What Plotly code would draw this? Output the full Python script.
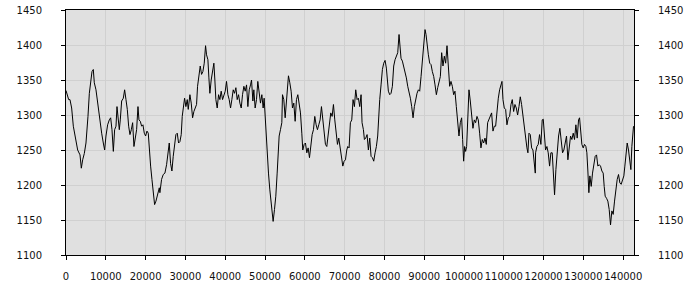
import plotly.graph_objects as go

# sample positions and values
x1 = [0,670,1000,1420,1840,2260,2930,3520,3850,4190,4600,5020,5270,5520,5860,6190,6530,6860,7110,7530,
      7950,8370,8620,8960,9370,9710,10040,10460,10880,11220,11550,11890,12220,12560,12810,13060,13390,13640,13980,14400,
      14730,15070,15400,15740,16070,16410,16740,17070,17410,17740,18080,18330,18670,19000,19330,19670,20000,20340,20670,20930,
      21260,21590,21930,22260,22600,23020,23440]
y1 = [1335,1322,1322,1310,1284,1272,1250,1243,1224,1236,1245,1260,1274,1298,1331,1348,1362,1365,1346,1336,
      1317,1298,1284,1274,1260,1250,1270,1286,1293,1296,1279,1248,1279,1284,1312,1293,1279,1293,1320,1324,
      1336,1322,1308,1284,1272,1279,1289,1255,1265,1279,1312,1293,1291,1284,1286,1274,1270,1277,1274,1250,
      1227,1208,1193,1172,1177,1186,1196]

x2 = [23590,24010,24430,24850,25270,25690,25940,26270,26610,26940,27280,27610,27950,28280,28620,28950,29200,29450,29790,30120,
      30460,30710,31130,31460,31800,32130,32470,32800,33050,33390,33720,34060,34390,34730,35060,35310,35650,35900,36150,36480,
      36820,37150,37400,37650,37990,38330,38660,38990,39330,39660,40000,40330,40670,41000,41340,41670,42010,42340,42680,43010,
      43350,43680,44020,44350,44690,45020,45360,45690,46030,46360,46610,46950]
y2 = [1189,1208,1215,1217,1229,1255,1260,1231,1220,1241,1255,1272,1274,1260,1262,1272,1298,1312,1324,1312,
      1322,1308,1329,1317,1296,1305,1310,1315,1341,1353,1370,1358,1362,1374,1399,1386,1379,1353,1331,1350,
      1365,1374,1350,1322,1310,1329,1322,1334,1322,1329,1334,1348,1329,1322,1310,1322,1336,1331,1339,1322,
      1329,1317,1310,1329,1341,1334,1343,1312,1336,1343,1350,1320]

x3 = [47190,47520,47860,48190,48530,48860,49200,49530,49780,50030,50280,50540,50870,51210,51540,51790,52040,52380,52710,53050,
      53300,53550,53880,54220,54390,54720,55060,55310,55560,55890,56230,56560,56900,57230,57570,57900,58240,58570,58910,59240,
      59490,59830,60160,60500,60830,61170,61500,61840,62170,62500,62840,63170,63510,63840,64180,64510,64850,65180,65520,65850,
      66190,66520,66860,67190,67530,67860,68200,68530,68870,69200,69540,69870,70210,70540]
y3 = [1336,1310,1322,1348,1334,1317,1329,1310,1324,1298,1274,1241,1217,1193,1170,1160,1148,1165,1184,1217,
      1246,1270,1279,1289,1329,1322,1296,1312,1327,1356,1346,1334,1310,1317,1291,1322,1329,1312,1303,1274,
      1250,1258,1260,1246,1253,1239,1260,1272,1279,1298,1286,1279,1286,1293,1312,1293,1272,1258,1255,1274,
      1289,1303,1298,1315,1293,1279,1258,1267,1253,1241,1227,1234,1236,1250]

x4 = [70780,71120,71450,71790,72120,72460,72790,73130,73460,73800,74130,74380,74720,74970,75300,75640,75970,76310,76640,76980,
      77310,77650,77980,78310,78570,78820,79150,79490,79820,80160,80490,80740,80990,81330,81660,82000,82330,82670,83000,83340,
      83670,83920,84170,84510,84840,85180,85510,85850,86180,86520,86850,87190,87520,87860,88190,88530,88860,89200,89530,89870,
      90200,90450,90700,91040,91370,91710,92040,92380,92710,93050,93380,93720,94050]
y4 = [1255,1253,1289,1293,1322,1312,1336,1322,1324,1312,1329,1289,1279,1265,1267,1272,1250,1267,1241,1239,
      1234,1246,1255,1270,1300,1322,1343,1365,1374,1378,1367,1346,1334,1329,1331,1341,1370,1379,1384,1389,
      1415,1400,1381,1377,1370,1360,1353,1341,1334,1324,1312,1296,1312,1324,1331,1336,1334,1355,1377,1396,
      1422,1415,1400,1386,1374,1372,1362,1355,1343,1329,1339,1348,1355]

x5 = [94380,94710,95050,95380,95720,96050,96390,96720,97060,97390,97720,98060,98390,98730,99060,99400,99650,99900,100150,100400,
      100650,100910,101240,101570,101910,102240,102580,102910,103250,103580,103920,104250,104590,104920,105260,105590,105930,106260,106600,106930,
      107270,107600,107940,108270,108610,108940,109270,109530,109780,110110,110450,110780,111120,111450,111790,112120,112460,112790,113130,113460,
      113800,114130,114460,114800,115130,115470,115800,116050,116310,116640,116980,117310,117650,117900]
y5 = [1389,1370,1384,1374,1399,1365,1341,1348,1341,1329,1334,1312,1293,1270,1289,1296,1265,1234,1255,1248,
      1255,1293,1336,1320,1298,1281,1293,1289,1298,1293,1274,1253,1265,1260,1267,1258,1289,1293,1298,1303,
      1277,1284,1284,1308,1324,1336,1343,1348,1322,1310,1308,1286,1296,1298,1315,1322,1305,1315,1310,1300,
      1312,1326,1315,1298,1289,1274,1253,1246,1274,1272,1253,1250,1234,1217]

x6 = [117970,118300,118640,118970,119310,119640,119900,120150,120480,120820,121150,121490,121820,122160,122490,122740,123080,123410,123750,124080,
      124420,124750,125080,125420,125750,126090,126420,126760,127090,127430,127760,128100,128430,128770,129020,129270,129600,129940,130270,130610,
      130860,131110,131360,131610,131950,132280,132620,132950,133290,133620,133960,134290,134630,134960,135210,135460,135800,136130,136470,136800,
      137140,137470,137810,138140,138480,138810,139150,139480,139820,140150,140400,140650,140990,141320,141660,141910,142160,142410,142580]
y6 = [1246,1255,1258,1272,1258,1293,1294,1274,1250,1255,1246,1227,1246,1246,1203,1186,1222,1250,1270,1281,
      1265,1246,1250,1260,1270,1236,1258,1270,1265,1274,1265,1286,1267,1293,1296,1277,1258,1253,1258,1255,
      1246,1220,1189,1213,1198,1217,1234,1241,1243,1227,1229,1227,1220,1217,1198,1184,1181,1177,1165,1143,
      1163,1158,1177,1193,1208,1215,1203,1201,1208,1213,1227,1246,1260,1250,1229,1222,1255,1279,1284]

xs = x1 + x2 + x3 + x4 + x5 + x6
ys = y1 + y2 + y3 + y4 + y5 + y6

x_ticks = list(range(0, 140001, 10000))
y_ticks = [1100, 1150, 1200, 1250, 1300, 1350, 1400, 1450]

FONT = dict(family="DejaVu Sans", size=10, color="#111111")

fig = go.Figure()
fig.add_trace(go.Scatter(x=xs, y=ys, mode="lines", line=dict(color="#000000", width=1),
                         showlegend=False, hoverinfo="skip"))
fig.add_trace(go.Scatter(x=xs, y=ys, mode="lines", line=dict(color="rgba(0,0,0,0)", width=1),
                         yaxis="y2", showlegend=False, hoverinfo="skip"))

axis_common = dict(showline=True, linecolor="#000000", linewidth=1, ticks="outside",
                   ticklen=4, tickcolor="#000000", tickfont=FONT, zeroline=False,
                   automargin=False)

fig.update_layout(
    width=700, height=300,
    margin=dict(l=66, r=66, t=10, b=45),
    paper_bgcolor="#ffffff", plot_bgcolor="#e0e0e0",
    font=FONT,
    xaxis=dict(range=[0, 142700], tickvals=x_ticks, ticktext=[str(v) for v in x_ticks],
               tickangle=0, showgrid=True, gridcolor="#d0d0d0", gridwidth=1, mirror=True,
               ticklabelstandoff=8, **axis_common),
    yaxis=dict(range=[1100, 1450], tickvals=y_ticks, ticktext=[str(v) for v in y_ticks],
               showgrid=True, gridcolor="#d0d0d0", gridwidth=1, mirror=True,
               ticklabelstandoff=17, **axis_common),
    yaxis2=dict(range=[1100, 1450], tickvals=y_ticks, ticktext=[str(v) for v in y_ticks],
                overlaying="y", side="right", showgrid=False,
                ticklabelstandoff=17, **axis_common),
)

fig.write_html("out.html")
